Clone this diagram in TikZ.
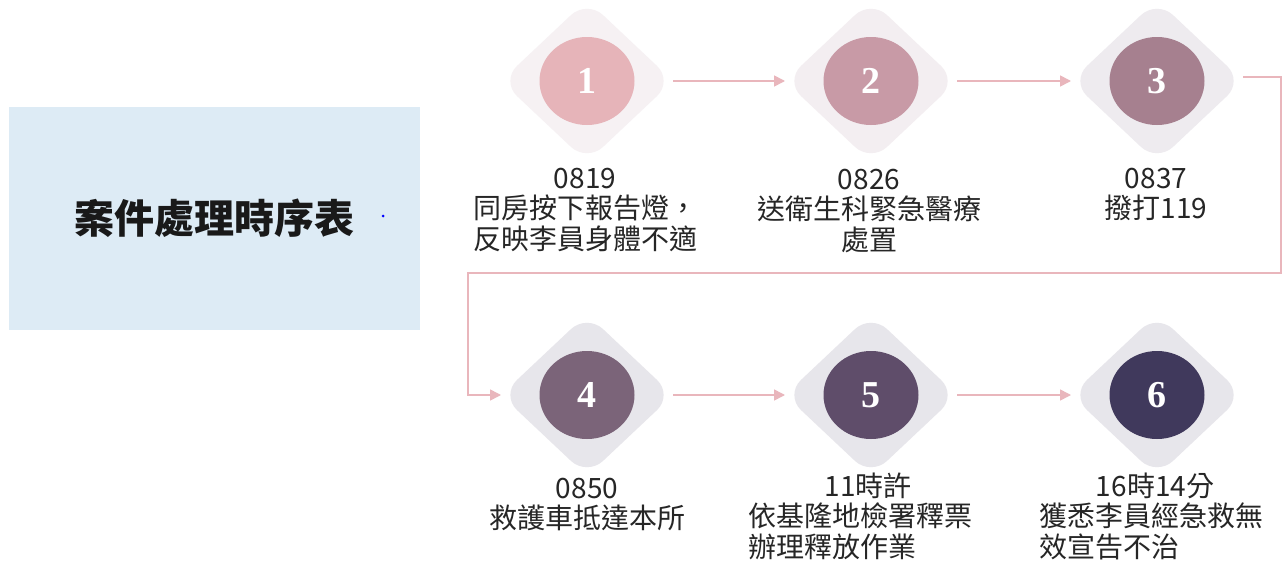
\documentclass[tikz,border=0pt]{standalone}
\usepackage{fontspec}
\setmainfont{Noto Sans CJK TC}
\newfontfamily\numfont{Liberation Serif}
\usetikzlibrary{shapes.geometric,arrows.meta}
\definecolor{boxblue}{HTML}{DDEBF5}
\definecolor{arrowpink}{HTML}{E9B6BC}
\definecolor{dA}{HTML}{F6F1F3}
\definecolor{dB}{HTML}{F3EEF1}
\definecolor{dC}{HTML}{EEEBEF}
\definecolor{dD}{HTML}{E7E6EB}
\definecolor{cA}{HTML}{E6B4B9}
\definecolor{cB}{HTML}{C89AA6}
\definecolor{cC}{HTML}{A6808F}
\definecolor{cD}{HTML}{7B6479}
\definecolor{cE}{HTML}{5F4D6A}
\definecolor{cF}{HTML}{40395C}
\newcommand\firststrut{\rule{0pt}{25pt}}
\begin{document}
\begin{tikzpicture}[x=1pt,y=-1pt,
  dia/.style={diamond, aspect=1, minimum width=172pt, minimum height=162pt,
    inner sep=0pt, outer sep=0pt, rounded corners=22pt},
  circ/.style={ellipse, minimum width=95pt, minimum height=88pt, inner sep=0pt,
    text=white, font=\numfont\bfseries\fontsize{38}{38}\selectfont},
  conn/.style={draw=arrowpink, line width=1.6pt, -{Triangle[length=11pt,width=11pt]}},
  lab/.style={anchor=north, align=center, inner sep=0pt, text=black!85,
    font=\fontsize{28}{30.5}\selectfont},
  titlebox/.style={fill=boxblue, minimum width=411pt, minimum height=223pt,
    inner sep=0pt, font=\bfseries\fontsize{40}{40}\selectfont, text=black!90}
]
\useasboundingbox (0,0) rectangle (1283,562);
\fill[white] (0,0) rectangle (1283,562);

% title box
\node[titlebox] (title) at (214.5,218.5) {案件處理時序表};
\fill[blue] (383,216) circle (1.5);

% diamonds
\node[dia, fill=dA] (d1) at (587,81) {};
\node[dia, fill=dB] (d2) at (871,81) {};
\node[dia, fill=dC] (d3) at (1157,81) {};
\node[dia, fill=dD] (d4) at (587,395) {};
\node[dia, fill=dD] (d5) at (871,395) {};
\node[dia, fill=dD] (d6) at (1157,395) {};

% circles
\node[circ, fill=cA] (n1) at (d1) {1};
\node[circ, fill=cB] (n2) at (d2) {2};
\node[circ, fill=cC] (n3) at (d3) {3};
\node[circ, fill=cD] (n4) at (d4) {4};
\node[circ, fill=cE] (n5) at (d5) {5};
\node[circ, fill=cF] (n6) at (d6) {6};

% connectors
\coordinate (cr) at (1281,273);
\coordinate (cl) at (468,273);
\draw[conn] (d1.east) -- (d2.west);
\draw[conn] (d2.east) -- (d3.west);
\draw[conn] ([yshift=4pt]d3.east) -| (cr) -- (cl) |- (d4.west);
\draw[conn] (d4.east) -- (d5.west);
\draw[conn] (d5.east) -- (d6.west);

% labels
\node[lab] (t1) at (585,163) {\firststrut 0819\\同房按下報告燈，\\反映李員身體不適};
\node[lab] (t2) at (869,164) {\firststrut 0826\\送衛生科緊急醫療\\處置};
\node[lab] (t3) at (1156,163) {\firststrut 0837\\撥打119};
\node[lab] (t4) at (587,473) {\firststrut 0850\\救護車抵達本所};
\node[lab] (t5) at (860,471) {\firststrut\hspace*{16pt}11時許\\依基隆地檢署釋票\\\makebox[8em][l]{辦理釋放作業}};
\node[lab] (t6) at (1151,471) {\firststrut\hspace*{8pt}16時14分\\獲悉李員經急救無\\\makebox[8em][l]{效宣告不治}};
\end{tikzpicture}
\end{document}
